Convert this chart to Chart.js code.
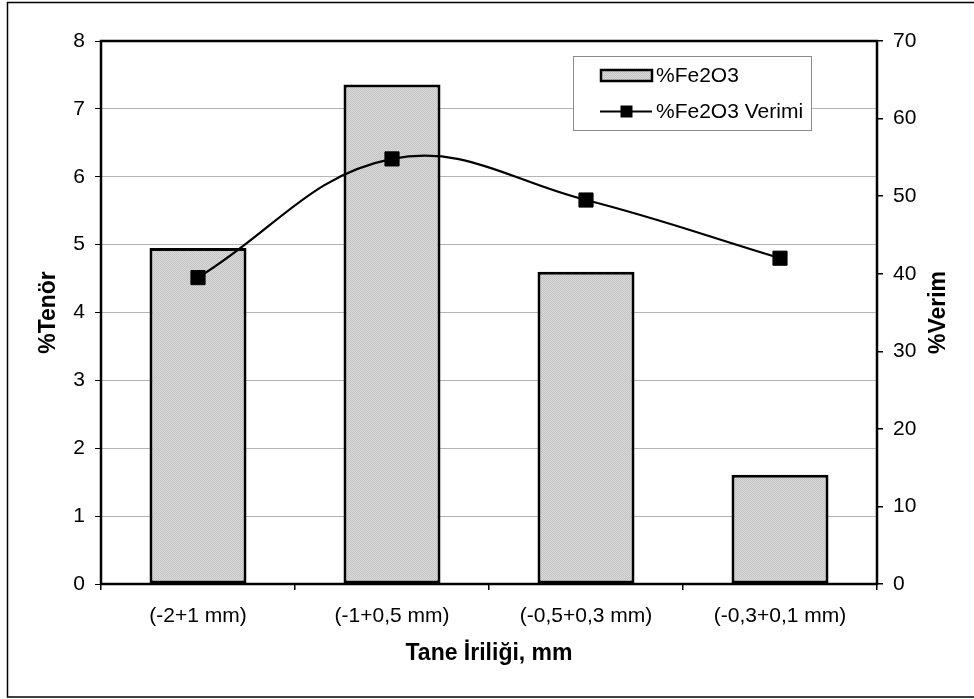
<!DOCTYPE html>
<html>
<head>
<meta charset="utf-8">
<script src="https://cdn.jsdelivr.net/npm/chart.js@4.4.0/dist/chart.umd.min.js"></script>
<style>
  html, body { margin: 0; padding: 0; background: #fff; }
  #wrap { width: 974px; height: 699px; }
  canvas { display: block; }
</style>
</head>
<body>
<div id="wrap"><canvas id="chart" width="974" height="699"></canvas></div>
<script>
// Particle size classes and measured values
const categories = ['(-2+1 mm)', '(-1+0,5 mm)', '(-0,5+0,3 mm)', '(-0,3+0,1 mm)'];
const tenorValues = [4.95, 7.36, 4.60, 1.61];      // %Fe2O3 grade (left axis)
const verimValues = [39.5, 54.8, 49.5, 42.0];      // %Fe2O3 recovery (right axis)
const seriesLabels = ['%Fe2O3', '%Fe2O3 Verimi'];
const leftAxisRange = [0, 8, 1];                   // min, max, step
const rightAxisRange = [0, 70, 10];
const xAxisTitle = 'Tane İriliği, mm';
const leftAxisTitle = '%Tenör';
const rightAxisTitle = '%Verim';

const FONT = '"Liberation Sans", Arial, sans-serif';

// Light grey dotted fill for the bars
function makeDotPattern() {
  const p = document.createElement('canvas');
  p.width = 2; p.height = 2;
  const g = p.getContext('2d');
  g.fillStyle = '#d9d9d9'; g.fillRect(0, 0, 2, 2);
  g.fillStyle = '#c4c4c4'; g.fillRect(0, 0, 1, 1); g.fillRect(1, 1, 1, 1);
  return document.getElementById('chart').getContext('2d').createPattern(p, 'repeat');
}
const barFill = makeDotPattern();

// White page, outer frame, plot frame, axis titles and legend box
const decorations = {
  id: 'decorations',
  beforeDraw(chart) {
    const ctx = chart.ctx;
    ctx.save();
    ctx.fillStyle = '#fff';
    ctx.fillRect(0, 0, chart.width, chart.height);
    ctx.restore();
  },
  afterDraw(chart) {
    const ctx = chart.ctx;
    const a = chart.chartArea;
    ctx.save();
    // outer frame
    ctx.strokeStyle = '#000';
    ctx.lineWidth = 1.5;
    ctx.strokeRect(7.5, 2.5, 970, 694.5);
    // plot area frame
    ctx.lineWidth = 2.5;
    ctx.strokeRect(a.left, a.top, a.right - a.left, a.bottom - a.top);

    // axis titles
    ctx.fillStyle = '#000';
    ctx.font = 'bold 23px ' + FONT;
    ctx.textAlign = 'center';
    ctx.textBaseline = 'alphabetic';
    const midY = (a.top + a.bottom) / 2;
    ctx.fillText(xAxisTitle, (a.left + a.right) / 2, 659.5);
    ctx.save();
    ctx.translate(55, midY);
    ctx.rotate(-Math.PI / 2);
    ctx.fillText(leftAxisTitle, 0, 0);
    ctx.restore();
    ctx.save();
    ctx.translate(945, midY);
    ctx.rotate(-Math.PI / 2);
    ctx.fillText(rightAxisTitle, 0, 0);
    ctx.restore();

    // legend
    const barSet = chart.data.datasets.find(d => d.type === 'bar');
    const lineSet = chart.data.datasets.find(d => d.type === 'line');
    ctx.fillStyle = '#fff';
    ctx.fillRect(573.5, 56.5, 238, 74);
    ctx.strokeStyle = '#8c8c8c';
    ctx.lineWidth = 1;
    ctx.strokeRect(573.5, 56.5, 238, 74);

    ctx.fillStyle = barFill;
    ctx.fillRect(601, 70, 51, 11);
    ctx.strokeStyle = '#000';
    ctx.lineWidth = 2.5;
    ctx.strokeRect(601, 70, 51, 11);

    ctx.beginPath();
    ctx.moveTo(600, 111.5);
    ctx.lineTo(652, 111.5);
    ctx.lineWidth = 2;
    ctx.stroke();
    ctx.fillStyle = '#000';
    ctx.fillRect(620.5, 105.5, 12, 12);

    ctx.font = '21px ' + FONT;
    ctx.textAlign = 'left';
    ctx.textBaseline = 'middle';
    ctx.fillText(barSet.label, 656, 76);
    ctx.fillText(lineSet.label, 656, 112);
    ctx.restore();
  }
};

new Chart(document.getElementById('chart'), {
  data: {
    labels: categories,
    datasets: [
      {
        type: 'line',
        label: seriesLabels[1],
        data: verimValues,
        yAxisID: 'y1',
        order: 0,
        borderColor: '#000',
        borderWidth: 2.2,
        tension: 0.4,
        pointStyle: 'rect',
        pointRadius: 10,
        pointBorderWidth: 1,
        pointBackgroundColor: '#000',
        pointBorderColor: '#000'
      },
      {
        type: 'bar',
        label: seriesLabels[0],
        data: tenorValues,
        yAxisID: 'y',
        order: 1,
        backgroundColor: barFill,
        borderColor: '#000',
        borderWidth: 3,
        borderSkipped: false,
        barPercentage: 0.5,
        categoryPercentage: 1.0
      }
    ]
  },
  options: {
    responsive: false,
    animation: false,
    devicePixelRatio: 1,
    layout: { padding: { left: 0, right: 0, top: 41, bottom: 0 } },
    plugins: {
      legend: { display: false },
      tooltip: { enabled: false },
      title: { display: false }
    },
    scales: {
      x: {
        position: 'bottom',
        grid: { offset: true, drawOnChartArea: false, drawTicks: true, tickLength: 6, tickColor: '#000', lineWidth: 1.5 },
        border: { display: false },
        ticks: { color: '#000', font: { family: FONT, size: 21 }, padding: 14, maxRotation: 0, autoSkip: false },
        afterFit(s) { s.height = 115; }
      },
      y: {
        position: 'left',
        min: leftAxisRange[0],
        max: leftAxisRange[1],
        grid: { color: '#b4b4b4', lineWidth: 1, drawTicks: true, tickLength: 6, tickColor: '#000' },
        border: { display: false },
        ticks: { stepSize: leftAxisRange[2], color: '#000', font: { family: FONT, size: 21 }, padding: 10 },
        afterFit(s) { s.width = 101; }
      },
      y1: {
        position: 'right',
        min: rightAxisRange[0],
        max: rightAxisRange[1],
        grid: { drawOnChartArea: false, drawTicks: true, tickLength: 6, tickColor: '#000', lineWidth: 1.5 },
        border: { display: false },
        ticks: { stepSize: rightAxisRange[2], color: '#000', font: { family: FONT, size: 21 }, padding: 10 },
        afterFit(s) { s.width = 97; }
      }
    }
  },
  plugins: [decorations]
});
</script>
</body>
</html>
